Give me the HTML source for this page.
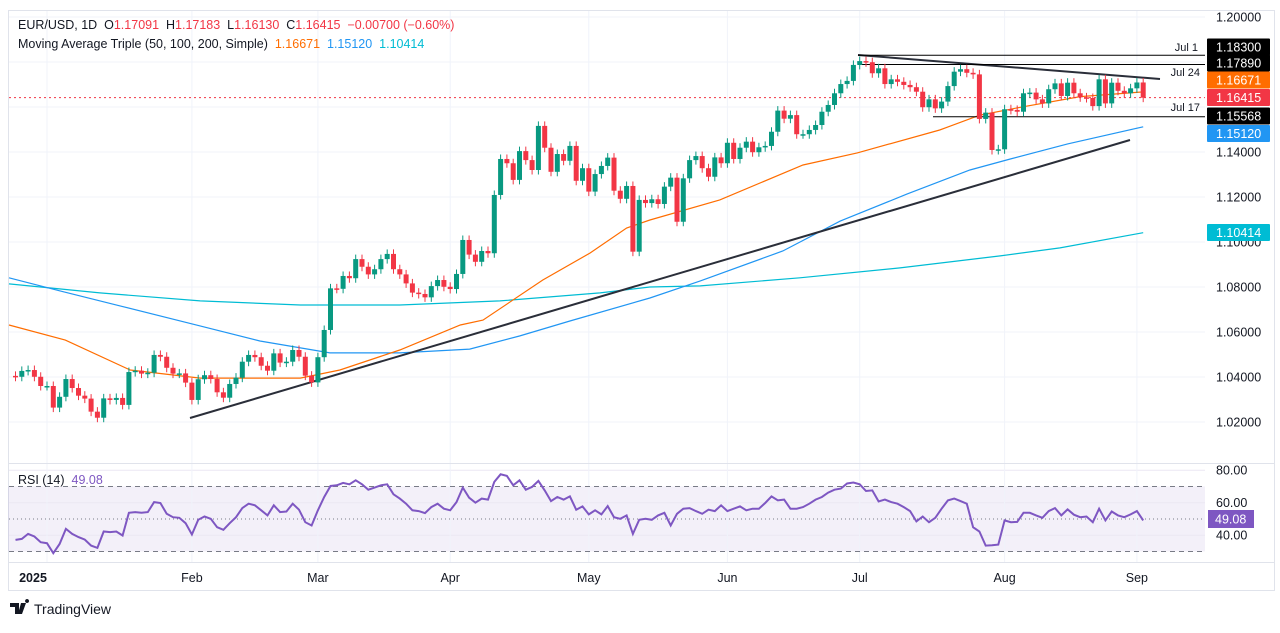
<!DOCTYPE html>
<html><head><meta charset="utf-8"><style>
body{margin:0;background:#fff;width:1280px;height:628px;overflow:hidden;font-family:"Liberation Sans",sans-serif}
svg text{font-family:"Liberation Sans",sans-serif}
</style></head><body>
<svg id="c" width="1280" height="628" xmlns="http://www.w3.org/2000/svg"></svg>
<script>
const startIndex = -5;
const closes = [1.0401,1.0427,1.0431,1.0401,1.0360,1.0360,1.0264,1.0312,1.0391,1.0351,
1.0317,1.0304,1.0246,1.0219,1.0305,1.0298,1.0307,1.0276,1.0422,1.0428,
1.0415,1.0419,1.0498,1.0490,1.0441,1.0415,1.0416,1.0375,1.0298,1.0390,
1.0408,1.0391,1.0332,1.0308,1.0369,1.0397,1.0468,1.0498,1.0488,1.0450,
1.0428,1.0505,1.0464,1.0468,1.0520,1.0490,1.0406,1.0376,1.0488,1.0609,
1.0794,1.0792,1.0849,1.0839,1.0924,1.0890,1.0856,1.0879,1.0924,1.0947,
1.0879,1.0856,1.0816,1.0775,1.0769,1.0754,1.0804,1.0831,1.0801,1.0791,
1.0858,1.1009,1.0944,1.0912,1.0960,1.0950,1.1209,1.1369,1.1350,1.1276,
1.1404,1.1364,1.1320,1.1516,1.1419,1.1312,1.1391,1.1361,1.1427,1.1272,
1.1328,1.1224,1.1302,1.1338,1.1375,1.1228,1.1192,1.1249,1.0957,1.1187,
1.1173,1.1190,1.1169,1.1246,1.1286,1.1090,1.1283,1.1364,1.1382,1.1328,
1.1290,1.1376,1.1350,1.1441,1.1369,1.1419,1.1446,1.1399,1.1421,1.1427,
1.1490,1.1584,1.1548,1.1564,1.1479,1.1479,1.1498,1.1520,1.1579,1.1609,
1.1661,1.1702,1.1716,1.1787,1.1804,1.1799,1.1750,1.1772,1.1702,1.1723,
1.1712,1.1698,1.1688,1.1668,1.1599,1.1634,1.1594,1.1624,1.1693,1.1757,
1.1768,1.1752,1.1745,1.1547,1.1575,1.1409,1.1412,1.1590,1.1587,1.1579,
1.1661,1.1664,1.1634,1.1616,1.1679,1.1705,1.1649,1.1708,1.1661,1.1643,
1.1640,1.1604,1.1723,1.1616,1.1708,1.1672,1.1661,1.1683,1.1709,1.16415];
const firstOpen = 1.0405;
const ma50Idx = [-7.5,2.9,13.2,24.3,40.2,46.5,56,65.6,69.2,78.7,86.2,92,95.7,106.8,120,128.6,141.7,148.1,154.9,164,174];
const ma50Val = [1.0631,1.0564,1.0431,1.0395,1.0395,1.0431,1.0520,1.0631,1.0653,1.0831,1.0951,1.1062,1.1098,1.1187,1.1342,1.1396,1.1498,1.1564,1.1601,1.1646,1.16671];
const ma100Idx = [-7.5,2,11.6,24.3,33.8,44.9,56,67.1,75,83,95.7,103.7,116.8,125.9,136.5,146.5,152.9,162,174];
const ma100Val = [1.0841,1.0783,1.0716,1.0627,1.0560,1.0507,1.0507,1.0524,1.0582,1.0649,1.0751,1.0827,1.0960,1.1093,1.1213,1.1320,1.1369,1.1436,1.1512];
const ma200Idx = [-7.5,8.4,24.3,40.2,56,71.9,87.8,95.7,103.7,119.5,135.4,151.3,160.8,174];
const ma200Val = [1.0814,1.0774,1.0738,1.0720,1.0720,1.0738,1.0774,1.0800,1.0805,1.0841,1.0885,1.0938,1.0974,1.10414];
const rsiVals = [37.1,37.7,40.8,39.2,35.7,35.1,28.9,34.6,43.9,40.8,38.8,37.3,33.6,32.2,42.3,41.9,42.3,39.8,53.8,54.2,
53.8,54.2,60.4,59.8,53.2,51.1,50.7,47.4,40.4,49.5,51.5,50.1,44.9,43.3,47.4,51.1,56.7,59.4,58.4,55.3,
52.2,58.4,54.2,54.6,59.4,55.7,48.0,46.0,55.3,63.5,70.3,70.7,72.2,71.3,73.8,71.3,68.0,69.3,70.7,71.3,
65.2,62.5,59.4,55.3,54.8,53.6,57.3,59.4,56.3,55.3,60.4,69.3,63.1,60.0,62.5,61.9,72.8,77.5,76.5,70.7,
73.8,68.0,69.7,73.4,67.6,61.0,63.5,61.9,63.9,55.7,57.7,52.8,55.3,52.8,57.9,51.1,50.1,52.2,40.8,49.5,
50.1,49.5,52.2,53.8,46.0,53.2,56.3,56.7,54.8,53.2,55.7,54.8,58.4,54.8,56.3,57.7,55.3,56.3,56.3,59.8,
63.9,61.4,61.9,56.3,56.3,57.3,59.4,61.9,63.5,66.2,68.0,68.7,71.8,72.4,71.3,67.2,67.6,60.8,61.9,60.4,
59.4,57.3,54.8,48.5,51.5,48.0,50.7,56.3,61.4,62.5,61.0,59.4,44.9,42.3,33.6,33.8,34.2,49.1,48.0,48.2,
53.8,53.8,52.2,50.7,54.8,56.7,52.2,55.9,52.6,51.1,51.5,48.0,56.3,49.1,54.6,52.2,51.1,52.8,54.8,49.08];
const priceTicks = [1.20,1.14,1.12,1.10,1.08,1.06,1.04,1.02];
const gridPrices = [1.20,1.18,1.16,1.14,1.12,1.10,1.08,1.06,1.04,1.02];
const monthLabels = ["2025","Feb","Mar","Apr","May","Jun","Jul","Aug","Sep"];
const monthIdx = [0,23,43,64,86,108,129,152,173];
const rsiTicks = [80,60,40];

const S = document.getElementById('c');
const NS = 'http://www.w3.org/2000/svg';
function xOf(i){return 47 + i*6.3;}
function yOf(p){return 62 - (p-1.18)*2250;}
function rY(v){return 502.7 - (v-60)*1.625;}
function mk(tag, at, name, parent){const e=document.createElementNS(NS,tag);for(const k in at)e.setAttribute(k,at[k]);


(parent||S).appendChild(e);return e;}
function txt(x,y,s,at,name){const e=mk('text',Object.assign({x:x,y:y},at),name);e.textContent=s;return e;}

mk('rect',{x:8.5,y:10.5,width:1266,height:580,fill:'#fff',stroke:'#e0e3eb'},'chart-frame');
mk('rect',{x:8,y:rY(70),width:1197,height:rY(30)-rY(70),fill:'#7e57c2','fill-opacity':0.09},'rsi-band');
gridPrices.forEach(p=>{mk('line',{x1:9,x2:1205,y1:yOf(p),y2:yOf(p),stroke:'#f0f3fa'},'h-grid');});
[80,60,40].forEach(v=>{mk('line',{x1:9,x2:1205,y1:rY(v),y2:rY(v),stroke:'#ebe7f3'},'rsi-grid');});
monthIdx.forEach(i=>{mk('line',{x1:xOf(i),x2:xOf(i),y1:11,y2:562,stroke:'#f0f3fa'},'v-grid');});
mk('line',{x1:9,x2:1274,y1:463.5,y2:463.5,stroke:'#e0e3eb'},'pane-separator');
mk('line',{x1:9,x2:1274,y1:562.5,y2:562.5,stroke:'#e0e3eb'},'time-axis-line');
[70,50,30].forEach(v=>{mk('line',{x1:9,x2:1205,y1:rY(v),y2:rY(v),stroke:'#787b86','stroke-dasharray':v==50?'1,3':'5,4'},'rsi-level-'+v);});

function line(idx,val,color,name){let d='';idx.forEach((i,k)=>{d+=(k?'L':'M')+Math.max(9,xOf(i)).toFixed(1)+','+yOf(val[k]).toFixed(1);});
mk('path',{d:d,fill:'none',stroke:color,'stroke-width':1.2},name);}
line(ma200Idx,ma200Val,'#00bcd4','sma-200-line');
line(ma100Idx,ma100Val,'#2196f3','sma-100-line');
line(ma50Idx,ma50Val,'#ff6d00','sma-50-line');

mk('line',{x1:190,y1:418,x2:1130,y2:140,stroke:'#2a2e39','stroke-width':2},'support-trendline');
mk('line',{x1:858,y1:55,x2:1160,y2:79,stroke:'#2a2e39','stroke-width':2},'resistance-trendline');
mk('line',{x1:858,y1:yOf(1.183),x2:1205,y2:yOf(1.183),stroke:'#000','stroke-width':1},'jul1-level');
mk('line',{x1:858,y1:yOf(1.1789),x2:1205,y2:yOf(1.1789),stroke:'#000','stroke-width':1},'jul24-level');
mk('line',{x1:933,y1:yOf(1.15568),x2:1205,y2:yOf(1.15568),stroke:'#000','stroke-width':1},'jul17-level');
mk('line',{x1:9,x2:1205,y1:yOf(1.16415),y2:yOf(1.16415),stroke:'#f23645','stroke-dasharray':'2,3'},'last-price-line');

const wick = 0.0020;
closes.forEach((c,k)=>{const i=startIndex+k;const o=k?closes[k-1]:firstOpen;
 const col=c>=o?'#089981':'#f23645';const x=xOf(i);
 const hi=Math.max(o,c)+wick, lo=Math.min(o,c)-wick;
 mk('line',{x1:x,x2:x,y1:yOf(hi),y2:yOf(lo),stroke:col,'stroke-width':1},'candle-wick');
 const t=yOf(Math.max(o,c)), b=yOf(Math.min(o,c));
 mk('rect',{x:x-2.5,y:t,width:5,height:Math.max(1.5,b-t),fill:col},'candle-body');
});

let rd='';rsiVals.forEach((v,k)=>{rd+=(k?'L':'M')+Math.max(9,xOf(startIndex+k)).toFixed(1)+','+rY(v).toFixed(1);});
mk('path',{d:rd,fill:'none',stroke:'#7e57c2','stroke-width':2},'rsi-line');

priceTicks.forEach(p=>{txt(1216,yOf(p)+4.5,p.toFixed(5),{'font-size':12.5,fill:'#131722'},'price-tick');});
function badge(y,label,bg,name){mk('rect',{x:1207,y:y-8.5,width:63,height:17,fill:bg,rx:1},name+'-bg');
 txt(1216,y+4.5,label,{'font-size':12.5,fill:'#fff'},name);}
badge(47,'1.18300','#000','jul1-price-label');
badge(63,'1.17890','#000','jul24-price-label');
badge(80,'1.16671','#ff6d00','sma50-price-label');
badge(97.5,'1.16415','#f23645','last-price-label');
badge(116,'1.15568','#000','jul17-price-label');
badge(133.5,'1.15120','#2196f3','sma100-price-label');
badge(232.5,'1.10414','#00bcd4','sma200-price-label');
txt(1198,51,'Jul 1',{'font-size':11,fill:'#131722','text-anchor':'end'},'jul1-annotation');
txt(1200,76,'Jul 24',{'font-size':11,fill:'#131722','text-anchor':'end'},'jul24-annotation');
txt(1200,111,'Jul 17',{'font-size':11,fill:'#131722','text-anchor':'end'},'jul17-annotation');
rsiTicks.forEach(v=>{txt(1216,rY(v)+4.5,v.toFixed(2),{'font-size':12.5,fill:'#131722'},'rsi-tick');});
mk('rect',{x:1208,y:510,width:46,height:18,fill:'#7e57c2'},'rsi-value-bg');
txt(1215,523.5,'49.08',{'font-size':12.5,fill:'#fff'},'rsi-value-label');
monthLabels.forEach((m,k)=>{txt(k==0?33:xOf(monthIdx[k]),582,m,{'font-size':12.5,fill:'#131722','text-anchor':'middle','font-weight':k==0?'bold':'normal'},'time-label');});

const h=txt(18,29,'',{'font-size':12.5,fill:'#131722'},'ohlc-legend');
h.innerHTML='EUR/USD, 1D  O<tspan fill="#f23645">1.17091</tspan>  H<tspan fill="#f23645">1.17183</tspan>  L<tspan fill="#f23645">1.16130</tspan>  C<tspan fill="#f23645">1.16415</tspan>  <tspan fill="#f23645">−0.00700 (−0.60%)</tspan>';
h.style.whiteSpace='pre';
const m=txt(18,48,'',{'font-size':12.5,fill:'#131722'},'ma-legend');
m.innerHTML='Moving Average Triple (50, 100, 200, Simple)  <tspan fill="#ff6d00">1.16671</tspan>  <tspan fill="#2196f3">1.15120</tspan>  <tspan fill="#00bcd4">1.10414</tspan>';
m.style.whiteSpace='pre';
const r=txt(18,484,'',{'font-size':12.5,fill:'#131722'},'rsi-legend');
r.innerHTML='RSI (14)  <tspan fill="#7e57c2">49.08</tspan>';r.style.whiteSpace='pre';

mk('path',{d:'M10,603h9v11h-4v-7h-5z M21,603h5l-4,11h-4z M27,603a2,2 0 1,1 0.1,0z',fill:'#131722'},'tradingview-logo-icon');
txt(34,614,'TradingView',{'font-size':14,fill:'#131722'},'tradingview-logo-text');
</script>
</body></html>
